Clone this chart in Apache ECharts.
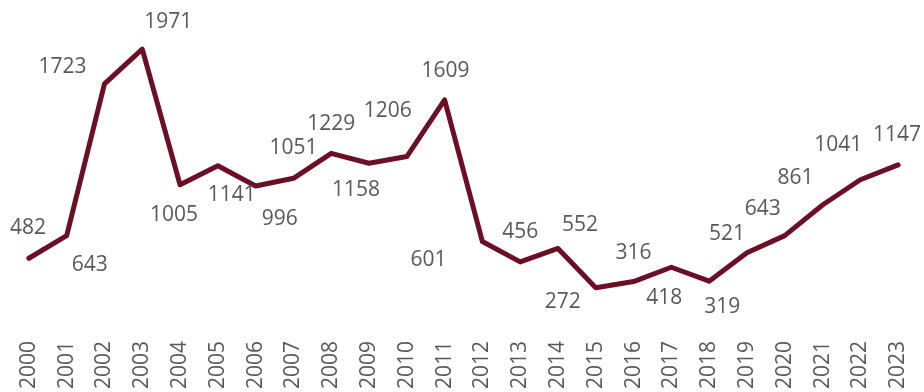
<!DOCTYPE html>
<html>
<head>
<meta charset="utf-8">
<script src="https://cdn.jsdelivr.net/npm/echarts@6/dist/echarts.min.js"></script>
<style>
  html, body { margin: 0; padding: 0; background: #ffffff; }
  #chart { width: 924px; height: 392px; }
</style>
</head>
<body>
<div id="chart"></div>
<script>
// Yearly totals, 2000–2023
const years = ['2000','2001','2002','2003','2004','2005','2006','2007','2008','2009','2010','2011',
               '2012','2013','2014','2015','2016','2017','2018','2019','2020','2021','2022','2023'];
const values = [482, 643, 1723, 1971, 1005, 1141, 996, 1051, 1229, 1158, 1206, 1609,
                601, 456, 552, 272, 316, 418, 319, 521, 643, 861, 1041, 1147];

// Hand-placed label nudges (px, relative to each point) to keep labels clear of the line
const labelOffsets = [
  [-1, -30], [23, 29], [-42, -17], [26, -27], [-6, 30], [14, 29], [24, 33], [0, -30],
  [0, -29], [-13, 27], [-19, -46], [1, -29], [-54, 18], [0, -30], [22, -23], [-33, 14],
  [0, -29], [-7, 31], [13, 26], [-20, -19], [-22, -27], [-27, -27], [-22, -35], [-1, -30]
];

const LINE_COLOR = '#6B0F27';
const TEXT_COLOR = '#595959';
const FONT = '"Open Sans", "Liberation Sans", sans-serif';

const chart = echarts.init(document.getElementById('chart'), null, { renderer: 'canvas' });

chart.setOption({
  animation: false,
  backgroundColor: '#ffffff',
  grid: { left: 10, right: 7, top: 45, bottom: 65, containLabel: false },
  xAxis: {
    type: 'category',
    data: years,
    boundaryGap: true,
    axisLine: { show: false },
    axisTick: { show: false },
    axisLabel: {
      rotate: 90,
      margin: 15,
      interval: 0,
      color: TEXT_COLOR,
      fontFamily: FONT,
      fontSize: 21
    }
  },
  yAxis: {
    type: 'value',
    min: 0,
    max: 2000,
    show: false,
    splitLine: { show: false }
  },
  series: [{
    type: 'line',
    data: values.map((v, i) => ({
      value: v,
      label: { offset: labelOffsets[i] }
    })),
    symbol: 'circle',
    symbolSize: 1,
    showSymbol: true,
    itemStyle: { color: LINE_COLOR },
    lineStyle: { color: LINE_COLOR, width: 5, cap: 'round', join: 'round' },
    label: {
      show: true,
      position: 'inside',
      align: 'center',
      verticalAlign: 'middle',
      color: TEXT_COLOR,
      fontFamily: FONT,
      fontSize: 21
    },
    emphasis: { disabled: true }
  }]
});
</script>
</body>
</html>
